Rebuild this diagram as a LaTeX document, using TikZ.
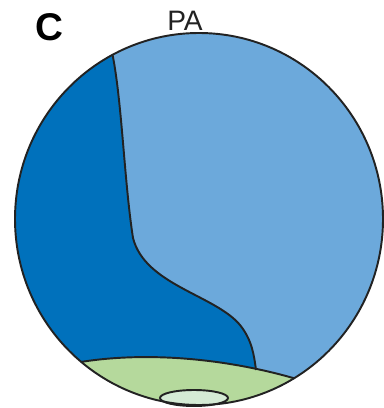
\documentclass[tikz,border=0pt]{standalone}
\usepackage{fontspec}
\setmainfont{Liberation Sans}
\usepackage{xcolor}
\usepackage{tikz}
\usetikzlibrary{calc}
\definecolor{darkblue}{RGB}{0,113,188}
\definecolor{lightblue}{RGB}{108,169,219}
\definecolor{palegreen}{RGB}{181,217,156}
\definecolor{mintgreen}{RGB}{213,235,213}
\definecolor{outline}{RGB}{34,34,34}

\begin{document}
\begin{tikzpicture}[
  x=0.02cm, y=-0.02cm,
  edge/.style={draw=outline, line width=1.1pt},
  label/.style={font=\fontsize{16}{18}\selectfont, text=outline, inner sep=0pt}
]
  \useasboundingbox (0,0) rectangle (384,408);

  % heart outline
  \coordinate (ctr) at (199,219);
  \fill[lightblue] (ctr) ellipse [x radius=184, y radius=186];

  \begin{scope}
    \clip (ctr) ellipse [x radius=184, y radius=186];
    % left ventricle side
    \fill[darkblue] (112,20) -- (112,52) .. controls (122,100) and (124,180) .. (133,238)
      .. controls (145,285) and (215,295) .. (240,325)
      .. controls (252,340) and (254,355) .. (256,370) -- (0,370) -- (0,20) -- cycle;
    % bottom band
    \fill[palegreen] (60,366) .. controls (130,350) and (220,356) .. (300,380)
      -- (300,420) -- (60,420) -- cycle;
    \draw[edge] (112,52) .. controls (122,100) and (124,180) .. (133,238)
      .. controls (145,285) and (215,295) .. (240,325)
      .. controls (252,340) and (254,355) .. (256,370);
    \draw[edge] (60,366) .. controls (130,350) and (220,356) .. (300,380);
  \end{scope}

  \filldraw[fill=mintgreen, edge] (194,398) ellipse [x radius=34, y radius=8];
  \draw[edge] (ctr) ellipse [x radius=184, y radius=186];

  \node[label] (pa) at (185,21) {PA};
  \node[font=\fontsize{22}{24}\selectfont\bfseries, inner sep=0pt] (panel) at (49,27) {C};
\end{tikzpicture}
\end{document}
